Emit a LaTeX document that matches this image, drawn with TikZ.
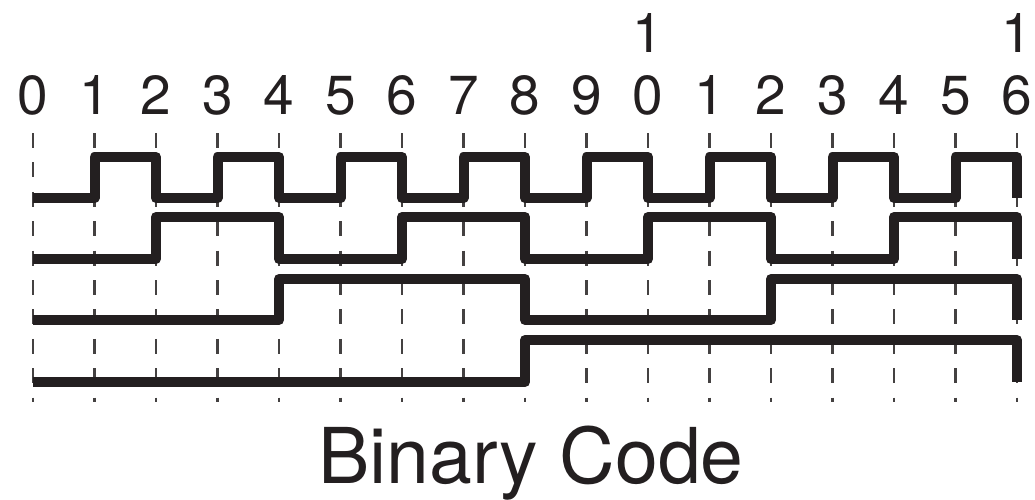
\documentclass[tikz,border=0pt]{standalone}
\usepackage{fontspec}
\setmainfont{TeX Gyre Heros}
\definecolor{ink}{HTML}{231F20}
\begin{document}
\begin{tikzpicture}[x=1pt,y=-1pt,
  wave/.style={draw=ink,line width=10pt,line join=round,line cap=butt},
  gridline/.style={draw=ink!85,line width=2.2pt,dash pattern=on 15pt off 14.4pt},
  num/.style={anchor=base,inner sep=0pt,text=ink,font=\fontsize{55}{60}\selectfont},
  caption/.style={anchor=base,inner sep=0pt,text=ink,font=\fontsize{77}{84}\selectfont}]
\useasboundingbox (0,0) rectangle (1035,500);
% dashed time lines
\foreach \k in {0,...,16} {
  \draw[gridline] ({33+61.5*\k},133) -- ({33+61.5*\k},402);
}
% digit labels
\foreach \k in {0,...,16} {
  \pgfmathtruncatemacro\d{mod(\k,10)}
  \node[num] (n\k) at ({33+61.5*\k},115) {\d};
}
\node[num] (t10) at ({33+61.5*10},53) {1};
\node[num] (t16) at ({33+61.5*16},53) {1};
% waveforms
\foreach \b/\H/\L in {0/157/198, 1/217/259, 2/279/320, 3/340/382} {
  \pgfmathtruncatemacro\p{2^\b}
  \pgfmathtruncatemacro\n{16/\p}
  \draw[wave] (33,\L) \foreach \i in {1,...,\n} { -- ++({\p*61.5},0) -- ++(0,{ifthenelse(mod(\i,2)==1,\H-\L,\L-\H)}) };
}
\node[caption] (cap) at (531,483) {Binary Code};
\end{tikzpicture}
\end{document}
